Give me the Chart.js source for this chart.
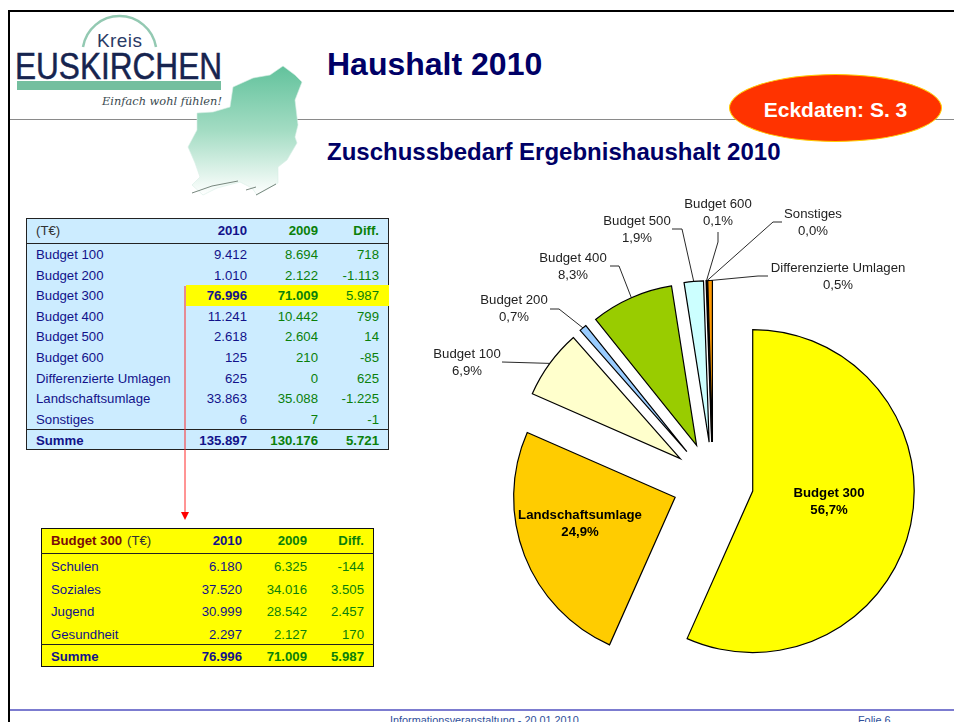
<!DOCTYPE html>
<html lang="de">
<head>
<meta charset="utf-8">
<title>Haushalt 2010</title>
<script src="https://cdn.jsdelivr.net/npm/chart.js@4/dist/chart.umd.js"></script>
<style>
html,body{margin:0;padding:0;width:954px;height:722px;overflow:hidden;background:#fff;font-family:"Liberation Sans",Arial,sans-serif}
#page{position:relative;width:954px;height:722px;overflow:hidden}
#page>*{position:absolute}
canvas#pie{left:0;top:0;z-index:5;pointer-events:none}
.t{position:absolute;white-space:nowrap;font-size:13.2px;line-height:16px;height:16px}
.r{text-align:right}
.b{font-weight:bold}
</style>
</head>
<body>
<div id="page">
  <div style="left:8px;top:10px;width:946px;height:2.4px;background:#000"></div>
  <div style="left:8px;top:10px;width:2.4px;height:712px;background:#000"></div>
  <div style="left:10px;top:118.5px;width:944px;height:1.6px;background:#8a8a8a"></div>
  <div style="left:10px;top:709px;width:944px;height:1.8px;background:#7c7cd0"></div>

  <svg style="left:10px;top:12px;z-index:1" width="320" height="190" viewBox="10 12 320 190">
    <defs>
      <linearGradient id="mapG" x1="0" y1="0" x2="0" y2="1">
        <stop offset="0" stop-color="#62c29c"/>
        <stop offset="0.5" stop-color="#a3dcc3"/>
        <stop offset="1" stop-color="#ffffff"/>
      </linearGradient>
    </defs>
    <path d="M83 47 A37 37 0 0 1 156 47" fill="none" stroke="#93c9b2" stroke-width="2.5"/>
    <text x="97" y="47" font-family="Liberation Sans" font-size="19" fill="#2a3a66" textLength="45">Kreis</text>
    <text x="15" y="79" font-family="Liberation Sans" font-size="37" fill="#16244f" stroke="#16244f" stroke-width="0.5" textLength="207" lengthAdjust="spacingAndGlyphs">EUSKIRCHEN</text>
    <rect x="17" y="81" width="204" height="9" fill="#74bf9f"/>
    <text x="102" y="105" font-family="DejaVu Serif" font-style="italic" font-size="10.5" fill="#3a4a50" textLength="120" lengthAdjust="spacingAndGlyphs">Einfach wohl fühlen!</text>
    <polygon fill="url(#mapG)" stroke="#d8efe5" stroke-width="0.6" points="283,66 295,75 302,82 295,100 297,117 298,125 295,137 297,143 287,160 278,167 278,183 257,195 252,188 240,182 217,188 203,195 192,185 200,177 195,163 188,147 197,130 197,113 213,112 230,107 233,87 253,78 270,75"/>
    <path d="M192 193 L212 186 L238 181 M246 190 L256 187 M256 195 L276 184" fill="none" stroke="#6a7a70" stroke-width="0.9"/>
  </svg>

  <div style="left:327px;top:44px;font-size:32px;line-height:40px;font-weight:bold;color:#000066;z-index:2">Haushalt 2010</div>
  <div style="left:327px;top:136px;font-size:24px;line-height:32px;font-weight:bold;color:#000066;white-space:nowrap;z-index:2">Zuschussbedarf Ergebnishaushalt 2010</div>

  <div style="left:729px;top:74px;width:211px;height:66px;border:1px solid #ffcc00;border-radius:50%;background:#ff3300;z-index:2"></div>
  <div style="left:729px;top:96px;width:213px;text-align:center;font-size:21px;line-height:28px;font-weight:bold;color:#fff;z-index:3;white-space:nowrap">Eckdaten: S. 3</div>

  <div id="t1" style="left:26px;top:218px;width:361px;height:230px;background:#ccecff;border:1.2px solid #222;z-index:1"></div>
  <div id="t2" style="left:41px;top:528px;width:331px;height:137px;background:#ffff00;border:1.4px solid #111;z-index:1"></div>

  <svg style="left:180px;top:284px;z-index:3" width="12" height="238" viewBox="180 284 12 238">
    <line x1="185" y1="286" x2="185" y2="513" stroke="#ff2a2a" stroke-width="1"/>
    <polygon points="181,512 189,512 185,520" fill="#ff0000"/>
  </svg>

  <div style="left:390px;top:713px;font-size:10.85px;line-height:14px;color:#2f4f9a;white-space:nowrap">Informationsveranstaltung - 20.01.2010</div>
  <div style="left:858px;top:713px;font-size:10.85px;line-height:14px;color:#2f4f9a;white-space:nowrap">Folie 6</div>

  <canvas id="pie" width="954" height="722"></canvas>
</div>
<script>
// ---- pie data
const sliceNames  = ['Budget 300','Landschaftsumlage','Budget 100','Budget 200','Budget 400','Budget 500','Budget 600','Sonstiges','Differenzierte Umlagen'];
const sliceValues = [76996,33863,9412,1010,11241,2618,125,6,625];
const slicePercents = ['56,7%','24,9%','6,9%','0,7%','8,3%','1,9%','0,1%','0,0%','0,5%'];
const sliceColors = ['#ffff00','#ffcc00','#ffffcc','#99ccff','#99cc00','#ccffff','#c0c0c0','#000000','#ff9900'];

// ---- main table
const mainRows = ['Budget 100','Budget 200','Budget 300','Budget 400','Budget 500','Budget 600','Differenzierte Umlagen','Landschaftsumlage','Sonstiges'];
const main2010 = ['9.412','1.010','76.996','11.241','2.618','125','625','33.863','6'];
const main2009 = ['8.694','2.122','71.009','10.442','2.604','210','0','35.088','7'];
const mainDiff = ['718','-1.113','5.987','799','14','-85','625','-1.225','-1'];
const mainSum  = ['135.897','130.176','5.721'];

// ---- Budget 300 table
const subRows = ['Schulen','Soziales','Jugend','Gesundheit'];
const sub2010 = ['6.180','37.520','30.999','2.297'];
const sub2009 = ['6.325','34.016','28.542','2.127'];
const subDiff = ['-144','3.505','2.457','170'];
const subSum  = ['76.996','71.009','5.987'];
const columnHeads = ['2010','2009','Diff.'];

// ---- layout (separate from data)
const NAVY = '#12128a', GREEN = '#0a800a';
const page = document.getElementById('page');
function txt(x, cy, s, color, bold, right, z){
  const d = document.createElement('div');
  d.className = 't' + (bold ? ' b' : '') + (right ? ' r' : '');
  d.textContent = s;
  d.style.color = color;
  d.style.top = (cy - 8) + 'px';
  d.style.zIndex = z || 2;
  if (right) { d.style.right = (954 - x) + 'px'; } else { d.style.left = x + 'px'; }
  page.appendChild(d);
  return d;
}
function rule(x, y, w, h, c, z){
  const d = document.createElement('div');
  d.style.cssText = `left:${x}px;top:${y}px;width:${w}px;height:${h}px;background:${c};z-index:${z||2}`;
  page.appendChild(d);
}
// main table
const mainY = [255,276,296,317,337,358,379,399,420];
rule(186,285,203,21,'#ffff00',1);
rule(26,242.5,363,1.4,'#222');
rule(26,428.5,363,1.4,'#222');
txt(36,231,'(T€)','#333',false);
[[247,NAVY],[318,GREEN],[379,GREEN]].forEach((c,i)=>txt(c[0],231,columnHeads[i],c[1],true,true));
mainRows.forEach((n,i)=>{
  const hi = i === 2;
  txt(36,mainY[i],n,NAVY,false);
  txt(247,mainY[i],main2010[i],NAVY,hi,true);
  txt(318,mainY[i],main2009[i],GREEN,hi,true);
  txt(379,mainY[i],mainDiff[i],GREEN,false,true);
});
txt(36,441,'Summe',NAVY,true);
[[247,NAVY],[318,GREEN],[379,GREEN]].forEach((c,i)=>txt(c[0],441,mainSum[i],c[1],true,true));
// Budget 300 table
const subY = [567,590,612,635];
rule(41,552.5,333,1.4,'#222');
rule(41,643.5,333,1.4,'#222');
txt(51,541,'Budget 300','#7a0a0a',true);
txt(127,541,'(T€)','#333',false);
[[242,NAVY],[307,GREEN],[364,GREEN]].forEach((c,i)=>txt(c[0],541,columnHeads[i],c[1],true,true));
subRows.forEach((n,i)=>{
  txt(51,subY[i],n,NAVY,false);
  txt(242,subY[i],sub2010[i],NAVY,false,true);
  txt(307,subY[i],sub2009[i],GREEN,false,true);
  txt(364,subY[i],subDiff[i],GREEN,false,true);
});
txt(51,657,'Summe',NAVY,true);
[[242,NAVY],[307,GREEN],[364,GREEN]].forEach((c,i)=>txt(c[0],657,subSum[i],c[1],true,true));

// ---- pie with every slice pulled out the same distance
const EXPLODE = 40.6;
const PIE_RADIUS = 161.5;
// label centre x, first-line centre y, then the fixed start of the leader (label side), then elbow
const labelLayout = [
  {x:829,y:493,bold:true},
  {x:580,y:515,bold:true},
  {x:467,y:354,from:[502,362]},
  {x:514,y:300,from:[550,309],elbow:[559,309]},
  {x:573,y:258,from:[610,266],elbow:[619,266]},
  {x:637,y:221,from:[672,229],elbow:[682,229]},
  {x:718,y:204,from:[718,232],elbow:[718,242]},
  {x:813,y:214,from:[782,222],elbow:[773,222]},
  {x:838,y:268,from:[768,276],elbow:[758,276]}
];

const explodePlugin = {
  id:'explode',
  beforeDatasetDraw(chart){
    chart.getDatasetMeta(0).data.forEach(arc=>{
      if (arc._wrapped) return;
      arc._wrapped = true;
      const base = arc.draw;
      arc.draw = function(ctx){
        const a = (this.startAngle + this.endAngle) / 2;
        ctx.save();
        ctx.translate(Math.cos(a)*EXPLODE, Math.sin(a)*EXPLODE);
        base.call(this, ctx);
        ctx.restore();
      };
    });
  }
};
const labelPlugin = {
  id:'sliceLabels',
  afterDatasetsDraw(chart){
    const ctx = chart.ctx;
    const arcs = chart.getDatasetMeta(0).data;
    ctx.save();
    arcs.forEach((arc,i)=>{
      const l = labelLayout[i];
      const a = (arc.startAngle + arc.endAngle) / 2;
      const r = arc.outerRadius + EXPLODE;
      if (l.from){
        ctx.beginPath();
        ctx.strokeStyle = '#111';
        ctx.lineWidth = 0.9;
        ctx.moveTo(l.from[0], l.from[1]);
        if (l.elbow) ctx.lineTo(l.elbow[0], l.elbow[1]);
        ctx.lineTo(arc.x + Math.cos(a)*r, arc.y + Math.sin(a)*r);
        ctx.stroke();
      }
      ctx.fillStyle = l.bold ? '#000' : '#222';
      ctx.font = (l.bold ? 'bold ' : '') + '13.2px "Liberation Sans"';
      ctx.textAlign = 'center';
      ctx.textBaseline = 'middle';
      ctx.fillText(sliceNames[i], l.x, l.y + 0.7);
      ctx.fillText(slicePercents[i], l.x, l.y + 17.7);
    });
    ctx.restore();
  }
};

new Chart(document.getElementById('pie'), {
  type:'pie',
  data:{
    labels:sliceNames,
    datasets:[{
      data:sliceValues,
      backgroundColor:sliceColors,
      borderColor:'#000',
      borderWidth:1.2,
      borderJoinStyle:'miter',
      radius:PIE_RADIUS
    }]
  },
  options:{
    responsive:false,
    animation:false,
    layout:{padding:{left:472,right:0,top:243.2,bottom:0}},
    plugins:{legend:{display:false},tooltip:{enabled:false}},
    events:[]
  },
  plugins:[explodePlugin,labelPlugin]
});
</script>
</body>
</html>
